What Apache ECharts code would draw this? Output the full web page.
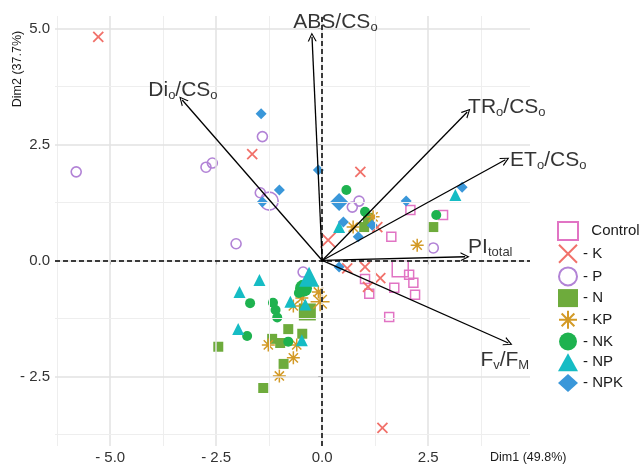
<!DOCTYPE html>
<html>
<head>
<meta charset="utf-8">
<script src="https://cdn.jsdelivr.net/npm/echarts@6/dist/echarts.min.js"></script>
<style>
  html, body { margin: 0; padding: 0; background: #fff; }
  #chart { width: 641px; height: 466px; }
</style>
</head>
<body>
<div id="chart"></div>
<script>
// individual scores (Dim1, Dim2) per treatment
var ctrlPts = [[1.63,0.51],[2.08,1.09],[2.85,0.98],[1.01,-0.40],[1.11,-0.72],[2.05,-0.31],[2.15,-0.48],[1.70,-0.59],[2.19,-0.74],[1.58,-1.22]];
var kPts = [[-5.28,4.82],[-1.65,2.29],[0.90,1.91],[1.30,0.72],[0.59,-0.17],[1.01,-0.14],[1.37,-0.38],[1.08,-0.57],[1.42,-3.61]];
var pPts = [[-1.41,2.67],[-2.74,2.01],[-2.59,2.10],[-5.80,1.91],[-1.46,1.46],[-2.03,0.36],[-0.45,-0.25],[0.71,1.15],[0.87,1.28],[2.62,0.27]];
var nPts = [[1.08,0.92],[0.99,0.72],[2.62,0.72],[-0.80,-1.48],[-0.47,-1.58],[-1.18,-1.69],[-0.99,-1.78],[-2.45,-1.86],[-0.91,-2.23],[-1.39,-2.75]];
var kpPts = [[-0.09,-0.68],[-0.48,-0.81],[-0.68,-0.98],[-1.27,-1.82],[-0.60,-1.82],[-0.68,-2.10],[-1.01,-2.49],[0.73,0.72],[1.20,0.94],[2.24,0.33]];
var nkPts = [[0.57,1.52],[1.01,1.05],[2.69,0.98],[-1.70,-0.92],[-1.16,-0.91],[-1.10,-1.07],[-1.06,-1.23],[-1.77,-1.63],[-0.80,-1.75],[-0.55,-0.70]];
var npPts = [[-1.48,-0.42],[-1.95,-0.68],[-0.75,-0.89],[-1.98,-1.48],[-0.48,-1.72],[0.40,0.72],[3.14,1.41],[-0.40,-0.95]];
var npkPts = [[-1.44,3.16],[-0.09,1.95],[-1.01,1.52],[-1.41,1.26],[0.50,0.83],[1.18,0.76],[0.85,0.51],[1.98,1.28],[3.30,1.58],[0.40,-0.14]];

var groupNames = ['Control', 'K', 'P', 'N', 'KP', 'NK', 'NP', 'NPK'];
var groupPts = [ctrlPts, kPts, pPts, nPts, kpPts, nkPts, npPts, npkPts];
// group means (drawn larger)
var centroids = [[1.84,-0.18],[0.14,0.44],[-1.25,1.28],[-0.35,-1.11],[-0.05,-0.89],[-0.44,-0.60],[-0.31,-0.35],[0.40,1.26]];

// variable loadings (arrow tips) and label anchors
var varNames = ['ABS/CSo', 'Dio/CSo', 'TRo/CSo', 'ETo/CSo', 'PItotal', 'Fv/FM'];
var varTips = [[-0.24,4.82],[-3.30,3.46],[3.42,3.20],[4.32,2.17],[3.37,0.08],[4.39,-1.78]];
var varLabelAt = [[-0.68,5.14],[-4.10,3.67],[3.44,3.31],[4.43,2.17],[3.44,0.29],[3.73,-2.14]];
var varRich = [
  '{m|ABS/CS}{s|o}',
  '{m|Di}{s|o}{m|/CS}{s|o}',
  '{m|TR}{s|o}{m|/CS}{s|o}',
  '{m|ET}{s|o}{m|/CS}{s|o}',
  '{m|PI}{s|total}',
  '{m|F}{s|v}{m|/F}{s|M}'
];

var xTicks = [-5, -2.5, 0, 2.5];
var xMinor = [-6.25, -3.75, -1.25, 1.25, 3.75];
var yTicks = [-2.5, 0, 2.5, 5];
var yMinor = [-3.75, -1.25, 1.25, 3.75];

var FONT = 'Liberation Sans';
var crossPath = 'path://M0,0L10,10M10,0L0,10';
var starPath = 'path://M5,0L5,10M0,5L10,5M1.46,1.46L8.54,8.54M8.54,1.46L1.46,8.54';
var arrowHead = 'path://M0,10L5,0L10,10L8.6,10L5,2.6L1.4,10Z';

var styles = [
  { symbol: 'rect', size: 9, big: 16, color: '#e174c4', hollow: true, bw: 1.5 },
  { symbol: crossPath, size: 10, big: 15, color: '#f1716a', hollow: true, bw: 1.8 },
  { symbol: 'circle', size: 10, big: 18, color: '#b283d6', hollow: true, bw: 1.6 },
  { symbol: 'rect', size: 10, big: 17, color: '#6eab3c' },
  { symbol: starPath, size: 13, big: 19, color: '#d39a26', hollow: true, bw: 1.5 },
  { symbol: 'circle', size: 10, big: 17, color: '#1eb24f' },
  { symbol: 'triangle', size: 12, big: 20, color: '#16bcc4' },
  { symbol: 'diamond', size: 11, big: 18, color: '#3a97d9' }
];

function fmtTick(v) {
  return v < 0 ? '- ' + Math.abs(v).toFixed(1) : v.toFixed(1);
}

function gridLines() {
  var d = [];
  xTicks.forEach(function (v) { d.push({ xAxis: v, lineStyle: { color: '#e2e2e2', width: 1.5, type: 'solid' } }); });
  xMinor.forEach(function (v) { d.push({ xAxis: v, lineStyle: { color: '#eeeeee', width: 1, type: 'solid' } }); });
  yTicks.forEach(function (v) { d.push({ yAxis: v, lineStyle: { color: '#e2e2e2', width: 1.5, type: 'solid' } }); });
  yMinor.forEach(function (v) { d.push({ yAxis: v, lineStyle: { color: '#eeeeee', width: 1, type: 'solid' } }); });
  return d;
}

var chartDom = document.getElementById('chart');
var myChart = echarts.init(chartDom, null, { renderer: 'canvas' });
var option;

var series = [];

// background grid
series.push({
  type: 'line', name: 'grid', data: [], silent: true, z: 0,
  markLine: { silent: true, symbol: ['none', 'none'], label: { show: false }, animation: false, data: gridLines() }
});
// dashed zero lines
series.push({
  type: 'line', name: 'zero', data: [], silent: true, z: 1,
  markLine: {
    silent: true, symbol: ['none', 'none'], label: { show: false }, animation: false,
    lineStyle: { color: '#000', width: 1.5, type: [5, 3] },
    data: [{ xAxis: 0 }, { yAxis: 0 }]
  }
});

groupNames.forEach(function (g, i) {
  var st = styles[i];
  var data = groupPts[i].map(function (p) { return { value: p }; });
  data.push({ value: centroids[i], symbolSize: st.big });
  series.push({
    type: 'scatter',
    name: g,
    symbol: st.symbol,
    symbolSize: st.size,
    z: 2,
    itemStyle: st.hollow
      ? { color: 'rgba(0,0,0,0)', borderColor: st.color, borderWidth: st.bw, opacity: 1 }
      : { color: st.color, opacity: 1 },
    data: data
  });
});

// loading arrows
series.push({
  type: 'lines',
  name: 'vars',
  coordinateSystem: 'cartesian2d',
  silent: true,
  z: 5,
  symbol: ['none', arrowHead],
  symbolSize: 9,
  lineStyle: { color: '#000', width: 1.3, opacity: 1, curveness: 0 },
  data: varTips.map(function (t) { return { coords: [[0, 0], t] }; })
});

// loading labels
series.push({
  type: 'scatter',
  name: 'varLabels',
  silent: true,
  clip: false,
  z: 6,
  symbolSize: 0,
  data: varLabelAt.map(function (p, i) { return { value: p, name: varNames[i] }; }),
  label: {
    show: true,
    position: 'right',
    distance: 0,
    formatter: function (p) { return varRich[p.dataIndex]; },
    rich: {
      m: { fontFamily: FONT, fontSize: 21, color: '#000', lineHeight: 24 },
      s: { fontFamily: FONT, fontSize: 13, color: '#000', lineHeight: 8, verticalAlign: 'bottom' }
    }
  }
});

option = {
  backgroundColor: '#fff',
  animation: false,
  grid: { left: 55, top: 16, width: 475, height: 430, containLabel: false },
  xAxis: {
    type: 'value',
    min: -6.3,
    max: 4.9,
    axisLine: { show: false },
    splitLine: { show: false },
    axisTick: { show: true, customValues: xTicks, length: 4, lineStyle: { color: '#333', width: 1 } },
    axisLabel: { customValues: xTicks, formatter: fmtTick, margin: 4, fontFamily: FONT, fontSize: 15, color: '#333' }
  },
  yAxis: {
    type: 'value',
    min: -4.0,
    max: 5.27,
    axisLine: { show: false },
    splitLine: { show: false },
    axisTick: { show: true, customValues: yTicks, length: 4, lineStyle: { color: '#333', width: 1 } },
    axisLabel: { customValues: yTicks, formatter: fmtTick, margin: 5, fontFamily: FONT, fontSize: 15, color: '#333' }
  },
  legend: {
    data: groupNames,
    orient: 'vertical',
    left: 552,
    top: 216,
    itemWidth: 20,
    itemHeight: 18,
    itemGap: 2.7,
    textStyle: { fontFamily: FONT, fontSize: 15, color: '#1a1a1a' },
    formatter: function (n) { return n === 'Control' ? '  Control' : '- ' + n; }
  },
  graphic: [
    { type: 'text', left: 490, top: 451, style: { text: 'Dim1 (49.8%)', fontFamily: FONT, fontSize: 12.5, fill: '#1a1a1a' } },
    { type: 'text', x: 18, y: 69, rotation: Math.PI / 2, style: { text: 'Dim2 (37.7%)', fontFamily: FONT, fontSize: 12.5, fill: '#1a1a1a', align: 'center', verticalAlign: 'middle' } }
  ],
  series: series
};

option && myChart.setOption(option);
window.addEventListener('resize', function () {
  myChart.resize();
});
</script>
</body>
</html>
